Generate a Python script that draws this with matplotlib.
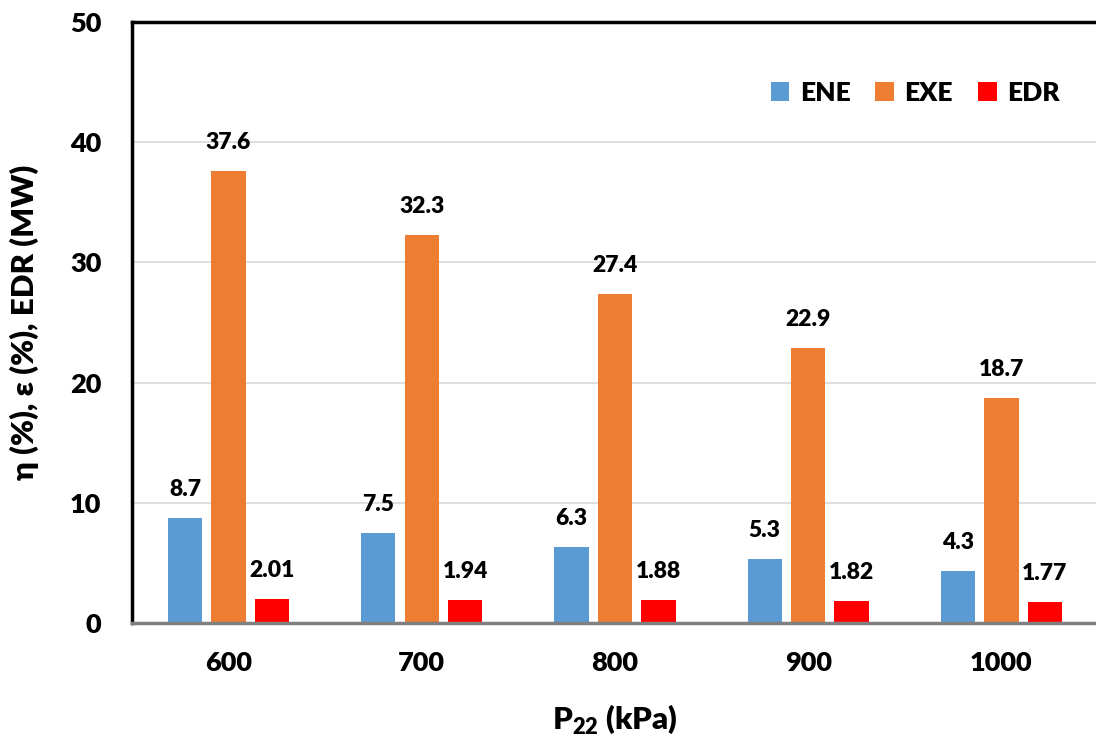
import numpy as np
import matplotlib.pyplot as plt

plt.rcParams['font.family'] = ['Lato', 'DejaVu Sans']
plt.rcParams['font.weight'] = 'heavy'
plt.rcParams['mathtext.fontset'] = 'custom'
plt.rcParams['mathtext.bf'] = 'Lato:heavy'

pressures = ['600', '700', '800', '900', '1000']
ene = [8.7, 7.5, 6.3, 5.3, 4.3]
exe = [37.6, 32.3, 27.4, 22.9, 18.7]
edr = [2.01, 1.94, 1.88, 1.82, 1.77]

fig = plt.figure(figsize=(10.96, 7.46), dpi=100)
ax = fig.add_axes([0.1204, 0.1649, 0.8814, 0.8056])

x = np.arange(len(pressures))
w = 0.178
step = 0.225
series = [(ene, '#5b9bd5', 'ENE', '{:.1f}'),
          (exe, '#ed7d31', 'EXE', '{:.1f}'),
          (edr, '#ff0000', 'EDR', '{:.2f}')]

for i, (vals, col, name, fmt) in enumerate(series):
    pos = x + (i - 1) * step
    ax.bar(pos, vals, width=w, color=col, label=name, zorder=3)
    for p, v in zip(pos, vals):
        ax.text(p, v + 1.5, fmt.format(v), ha='center', va='bottom',
                fontsize=16.5, fontweight='heavy')

ax.set_xlim(-0.5, 4.5)
ax.set_ylim(0, 50)
ax.set_yticks(range(0, 51, 10))
ax.set_xticks(x)
ax.set_xticklabels(pressures)
ax.tick_params(length=0, labelsize=19.5)
ax.tick_params(axis='y', pad=22)
ax.tick_params(axis='x', pad=20)

ax.grid(axis='y', color='#d9d9d9', linewidth=1.2, zorder=0)
ax.spines['left'].set_linewidth(2.5)
ax.spines['top'].set_linewidth(2.5)
ax.spines['right'].set_visible(False)
ax.spines['bottom'].set_color('#808080')
ax.spines['bottom'].set_linewidth(2.5)
ax.spines['bottom'].set_zorder(4)

ax.set_ylabel('η (%), ε (%), EDR (MW)', fontsize=22.5, fontweight='heavy', labelpad=22)
ax.set_xlabel('P$_{\\mathbf{22}}$ (kPa)', fontsize=22.5, fontweight='heavy', labelpad=20)

ax.legend(loc='upper right', bbox_to_anchor=(0.985, 0.942), ncol=3, frameon=False,
          prop={'size': 19, 'weight': 'heavy'}, handlelength=0.7, handleheight=0.7,
          handletextpad=0.4, columnspacing=0.95)

fig.savefig('out.png', dpi=100)
